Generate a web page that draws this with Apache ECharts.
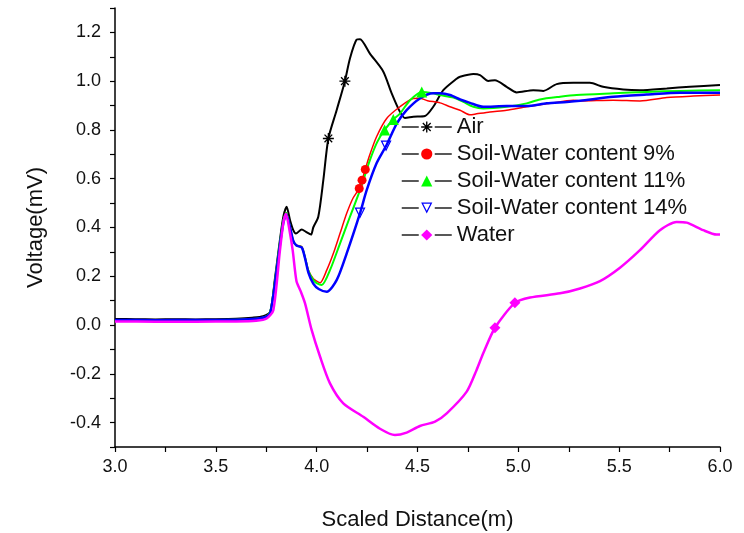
<!DOCTYPE html>
<html>
<head>
<meta charset="utf-8">
<title>Voltage vs Scaled Distance</title>
<script src="https://cdn.jsdelivr.net/npm/echarts@6/dist/echarts.min.js"></script>
<style>
  html, body { margin: 0; padding: 0; background: #fff; }
  #chart { width: 744px; height: 533px; }
</style>
</head>
<body>
<div id="chart"></div>
<script>
// names in legend order
var seriesNames = ['Air', 'Soil-Water content 9%', 'Soil-Water content 11%', 'Soil-Water content 14%', 'Water'];

// [scaled distance (m), voltage (mV)]
var air = [
  [3.00, 0.025], [3.10, 0.024], [3.20, 0.023], [3.30, 0.024], [3.40, 0.023], [3.50, 0.024],
  [3.60, 0.026], [3.68, 0.030], [3.735, 0.036], [3.77, 0.055], [3.793, 0.19], [3.818, 0.35],
  [3.835, 0.445], [3.851, 0.485], [3.868, 0.43], [3.884, 0.389], [3.897, 0.375], [3.926, 0.392],
  [3.947, 0.382], [3.972, 0.371], [3.983, 0.40], [4.008, 0.444], [4.033, 0.594], [4.058, 0.765],
  [4.099, 0.881], [4.14, 1.0], [4.165, 1.093], [4.198, 1.17], [4.215, 1.172], [4.264, 1.113],
  [4.33, 1.04], [4.372, 0.95], [4.413, 0.874], [4.438, 0.849], [4.479, 0.854], [4.537, 0.857],
  [4.578, 0.895], [4.628, 0.963], [4.694, 1.01], [4.711, 1.018], [4.777, 1.029], [4.81, 1.025],
  [4.851, 1.001], [4.884, 1.004], [4.942, 0.977], [4.992, 0.954], [5.074, 0.963], [5.124, 0.960],
  [5.19, 0.988], [5.273, 0.993], [5.355, 0.993], [5.42, 0.977], [5.52, 0.966], [5.603, 0.963],
  [5.736, 0.97], [5.851, 0.977], [6.0, 0.984]
];
var soil9 = [
  [3.00, 0.020], [3.20, 0.020], [3.40, 0.021], [3.60, 0.022], [3.70, 0.026], [3.75, 0.036],
  [3.77, 0.055], [3.793, 0.18], [3.818, 0.34], [3.835, 0.43], [3.849, 0.46], [3.868, 0.40],
  [3.884, 0.345], [3.90, 0.328], [3.926, 0.321], [3.942, 0.28], [3.959, 0.225], [3.983, 0.19],
  [4.0, 0.18], [4.017, 0.173], [4.05, 0.225], [4.083, 0.294], [4.116, 0.376], [4.149, 0.458],
  [4.18, 0.52], [4.211, 0.56], [4.225, 0.594], [4.241, 0.638], [4.26, 0.69], [4.297, 0.772],
  [4.347, 0.847], [4.413, 0.895], [4.479, 0.929], [4.51, 0.93], [4.55, 0.92], [4.612, 0.911],
  [4.661, 0.895], [4.711, 0.881], [4.76, 0.862], [4.793, 0.866], [4.859, 0.874], [4.942, 0.881],
  [5.041, 0.895], [5.157, 0.909], [5.273, 0.922], [5.306, 0.919], [5.471, 0.922], [5.603, 0.919],
  [5.736, 0.933], [5.868, 0.939], [6.0, 0.943]
];
var soil11 = [
  [3.00, 0.020], [3.20, 0.020], [3.40, 0.021], [3.60, 0.022], [3.70, 0.026], [3.75, 0.036],
  [3.77, 0.055], [3.793, 0.18], [3.818, 0.34], [3.835, 0.43], [3.849, 0.46], [3.868, 0.40],
  [3.884, 0.345], [3.90, 0.326], [3.926, 0.319], [3.942, 0.278], [3.959, 0.222], [3.983, 0.185],
  [4.0, 0.172], [4.025, 0.164], [4.066, 0.225], [4.116, 0.335], [4.165, 0.444], [4.215, 0.553],
  [4.264, 0.676], [4.30, 0.75], [4.337, 0.80], [4.38, 0.843], [4.413, 0.867], [4.463, 0.922],
  [4.521, 0.956], [4.578, 0.95], [4.61, 0.943], [4.678, 0.933], [4.727, 0.915], [4.777, 0.895],
  [4.826, 0.888], [4.942, 0.895], [5.041, 0.909], [5.107, 0.925], [5.207, 0.936], [5.289, 0.943],
  [5.471, 0.95], [5.636, 0.956], [5.802, 0.96], [6.0, 0.963]
];
var soil14 = [
  [3.00, 0.021], [3.20, 0.020], [3.40, 0.021], [3.60, 0.022], [3.70, 0.026], [3.75, 0.034],
  [3.77, 0.05], [3.793, 0.17], [3.818, 0.33], [3.835, 0.42], [3.849, 0.455], [3.868, 0.40],
  [3.884, 0.345], [3.90, 0.326], [3.926, 0.318], [3.942, 0.275], [3.959, 0.215], [3.983, 0.17],
  [4.01, 0.148], [4.05, 0.137], [4.099, 0.184], [4.149, 0.294], [4.215, 0.459], [4.248, 0.553],
  [4.297, 0.663], [4.344, 0.734], [4.397, 0.826], [4.446, 0.881], [4.512, 0.929], [4.578, 0.95],
  [4.612, 0.95], [4.661, 0.943], [4.711, 0.925], [4.76, 0.911], [4.826, 0.895], [4.942, 0.898],
  [5.041, 0.898], [5.14, 0.909], [5.24, 0.915], [5.306, 0.92], [5.471, 0.936], [5.636, 0.945],
  [5.802, 0.953], [6.0, 0.953]
];
var water = [
  [3.00, 0.015], [3.20, 0.014], [3.40, 0.014], [3.60, 0.015], [3.70, 0.018], [3.752, 0.027],
  [3.785, 0.061], [3.818, 0.307], [3.835, 0.42], [3.848, 0.455], [3.865, 0.39], [3.881, 0.307],
  [3.90, 0.18], [3.92, 0.14], [3.942, 0.09], [3.975, -0.02], [4.017, -0.13], [4.066, -0.239],
  [4.132, -0.321], [4.231, -0.376], [4.314, -0.425], [4.388, -0.451], [4.446, -0.441],
  [4.512, -0.414], [4.587, -0.396], [4.645, -0.362], [4.744, -0.273], [4.793, -0.184],
  [4.826, -0.116], [4.884, -0.011], [4.983, 0.091], [5.058, 0.113], [5.207, 0.13], [5.306, 0.15],
  [5.405, 0.18], [5.504, 0.235], [5.603, 0.307], [5.702, 0.389], [5.785, 0.423], [5.835, 0.42],
  [5.917, 0.389], [5.983, 0.371], [6.0, 0.371]
];

// distances where a marker symbol is drawn on each curve
var airMarks = [4.058, 4.14];
var soil9Marks = [4.211, 4.225, 4.241];
var soil11Marks = [4.337, 4.38, 4.521];
var soil14Marks = [4.215, 4.344];
var waterMarks = [4.884, 4.983];

var xTicks = ['3.0', '3.5', '4.0', '4.5', '5.0', '5.5', '6.0'];
var yTicks = ['-0.4', '-0.2', '0.0', '0.2', '0.4', '0.6', '0.8', '1.0', '1.2'];

// symbols
var starPath = 'path://M4.4,0L5.6,0L5.6,10L4.4,10Z' +
  'M0,4.4L10,4.4L10,5.6L0,5.6Z' +
  'M1.08,1.92L1.92,1.08L8.92,8.08L8.08,8.92Z' +
  'M8.08,1.08L8.92,1.92L1.92,8.92L1.08,8.08Z';
var downTriPath = 'path://M0,0L10,0L5,9Z M1.8,1L5,6.8L8.2,1Z';

var chart = echarts.init(document.getElementById('chart'));

function mkSeries(name, data, marks, color, width, symbol, size) {
  return {
    name: name,
    type: 'line',
    data: data,
    smooth: 0.25,
    symbol: symbol,
    symbolSize: function (v) {
      return marks.indexOf(v[0]) >= 0 ? size : 0
    },
    showSymbol: true,
    lineStyle: { color: color, width: width },
    itemStyle: { color: color },
    emphasis: { disabled: true },
    animation: false
  }
}

var font = 'Liberation Sans, Arial, sans-serif';

var option = {
  backgroundColor: '#fff',
  animation: false,
  grid: { left: 115, right: 24, top: 8, bottom: 86, outerBoundsMode: 'none' },
  legend: {
    orient: 'vertical',
    left: 401,
    top: 116,
    padding: 0,
    itemGap: 5,
    itemWidth: 50,
    itemHeight: 14,
    selectedMode: false,
    data: seriesNames,
    lineStyle: { color: '#222', width: 1.5, type: [17, 16] },
    textStyle: { fontFamily: font, fontSize: 22, lineHeight: 22, color: '#111' }
  },
  xAxis: {
    type: 'value',
    min: 3, max: 6, interval: 0.25,
    name: 'Scaled Distance(m)',
    nameLocation: 'middle',
    nameGap: 62,
    nameTextStyle: { fontFamily: font, fontSize: 22, color: '#111' },
    axisLine: { onZero: false, lineStyle: { color: '#000', width: 1.5 } },
    axisTick: { inside: false, length: 5, lineStyle: { color: '#000', width: 1.2 } },
    axisLabel: {
      margin: 11,
      fontFamily: font, fontSize: 18, color: '#111',
      formatter: function (v) {
        var k = Math.round(v * 4);
        return k % 2 === 0 ? xTicks[k / 2 - 6] : ''
      }
    },
    splitLine: { show: false }
  },
  yAxis: {
    type: 'value',
    min: -0.5, max: 1.3, interval: 0.1,
    name: 'Voltage(mV)',
    nameLocation: 'middle',
    nameRotate: 90,
    nameGap: 68,
    nameTextStyle: { fontFamily: font, fontSize: 22, color: '#111' },
    axisLine: { show: true, lineStyle: { color: '#000', width: 1.5 } },
    axisTick: { show: true, inside: false, length: 5, lineStyle: { color: '#000', width: 1.2 } },
    axisLabel: {
      margin: 14,
      fontFamily: font, fontSize: 18, color: '#111',
      formatter: function (v) {
        var k = Math.round(v * 10);
        return k % 2 === 0 ? yTicks[(k + 4) / 2] : ''
      }
    },
    splitLine: { show: false }
  },
  series: [
    mkSeries(seriesNames[0], air, airMarks, '#000000', 2, starPath, 11),
    mkSeries(seriesNames[1], soil9, soil9Marks, '#ff0000', 1.5, 'circle', 9),
    mkSeries(seriesNames[2], soil11, soil11Marks, '#00ff00', 2, 'triangle', 11),
    mkSeries(seriesNames[3], soil14, soil14Marks, '#0000ff', 2.5, downTriPath, 11),
    mkSeries(seriesNames[4], water, waterMarks, '#ff00ff', 2.5, 'diamond', 11)
  ]
};

chart.setOption(option);
</script>
</body>
</html>
